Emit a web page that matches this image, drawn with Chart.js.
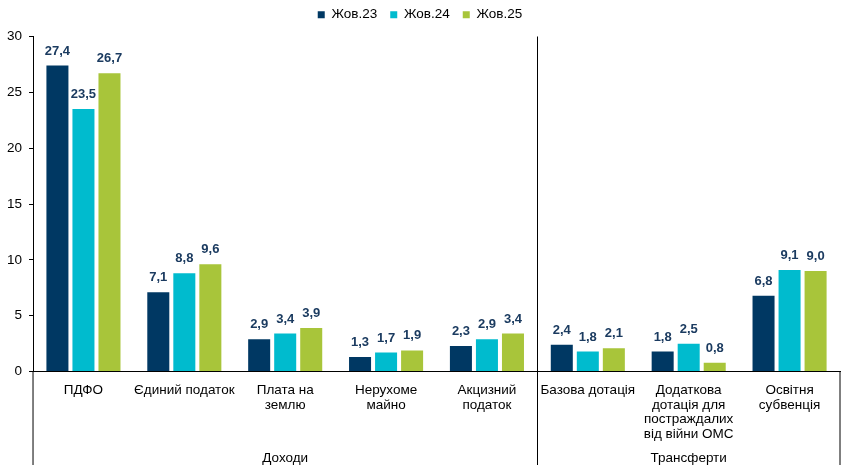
<!DOCTYPE html>
<html>
<head>
<meta charset="utf-8">
<script src="https://cdn.jsdelivr.net/npm/chart.js@4.4.1/dist/chart.umd.min.js"></script>
<style>
  html, body { margin: 0; padding: 0; background: #fff; }
  #wrap { width: 850px; height: 476px; }
</style>
</head>
<body>
<div id="wrap"><canvas id="chart"></canvas></div>
<script>
const categories = [
  'ПДФО',
  'Єдиний податок',
  ['Плата на', 'землю'],
  ['Нерухоме', 'майно'],
  ['Акцизний', 'податок'],
  'Базова дотація',
  ['Додаткова', 'дотація для', 'постраждалих', 'від війни ОМС'],
  ['Освітня', 'субвенція']
];
const seriesNames = ['Жов.23', 'Жов.24', 'Жов.25'];
const oct23 = [27.4, 7.1, 2.9, 1.3, 2.3, 2.4, 1.8, 6.8];
const oct24 = [23.5, 8.8, 3.4, 1.7, 2.9, 1.8, 2.5, 9.1];
const oct25 = [26.7, 9.6, 3.9, 1.9, 3.4, 2.1, 0.8, 9.0];
const groups = [
  { label: 'Доходи', from: 0, to: 4 },
  { label: 'Трансферти', from: 5, to: 7 }
];
const colors = ['#003863', '#00BBCE', '#A8C53A'];

const font = 'Liberation Sans, Arial, sans-serif';

// extra room under the legend so it sits higher above the plot
const legendGap = {
  id: 'legendGap',
  beforeInit(chart) {
    const fit = chart.legend.fit;
    chart.legend.fit = function () {
      fit.bind(chart.legend)();
      this.height += 5;
    };
  }
};

// value labels above bars
const valueLabels = {
  id: 'valueLabels',
  afterDatasetsDraw(chart) {
    const ctx = chart.ctx;
    ctx.save();
    ctx.font = 'bold 13px ' + font;
    ctx.fillStyle = '#1B3B60';
    ctx.textAlign = 'center';
    ctx.textBaseline = 'bottom';
    chart.data.datasets.forEach((ds, di) => {
      chart.getDatasetMeta(di).data.forEach((bar, i) => {
        ctx.fillText(ds.data[i].toFixed(1).replace('.', ','), bar.x, bar.y - 8);
      });
    });
    ctx.restore();
  }
};

// group separators and group names under the axis
const groupAxis = {
  id: 'groupAxis',
  afterDraw(chart) {
    const ctx = chart.ctx;
    const x = chart.scales.x;
    const area = chart.chartArea;
    const bottom = 465;
    const edge = i => {
      if (i < 0) return area.left;
      if (i >= categories.length - 1) return area.right;
      return (x.getPixelForValue(i) + x.getPixelForValue(i + 1)) / 2;
    };
    ctx.save();
    ctx.strokeStyle = '#000';
    ctx.lineWidth = 1;
    ctx.beginPath();
    ctx.moveTo(area.left, area.bottom);
    ctx.lineTo(area.left, bottom);
    const sep = Math.round(edge(groups[0].to)) + 0.5;
    ctx.moveTo(sep, area.top);
    ctx.lineTo(sep, bottom);
    ctx.moveTo(area.right, area.bottom);
    ctx.lineTo(area.right, bottom);
    ctx.stroke();
    ctx.font = '13.5px ' + font;
    ctx.fillStyle = '#000';
    ctx.textAlign = 'center';
    ctx.textBaseline = 'middle';
    groups.forEach(g => {
      const l = edge(g.from - 1), r = edge(g.to);
      ctx.fillText(g.label, (l + r) / 2, 458);
    });
    ctx.restore();
  }
};

new Chart(document.getElementById('chart'), {
  type: 'bar',
  data: {
    labels: categories,
    datasets: [oct23, oct24, oct25].map((d, i) => ({
      label: seriesNames[i],
      data: d,
      backgroundColor: colors[i],
      categoryPercentage: 0.774,
      barPercentage: 0.846
    }))
  },
  options: {
    responsive: true,
    maintainAspectRatio: false,
    animation: false,
    layout: { padding: { left: 0, right: 10, top: -5, bottom: 31 } },
    plugins: {
      tooltip: { enabled: false },
      legend: {
        position: 'top',
        labels: {
          boxWidth: 7,
          boxHeight: 7,
          padding: 13,
          color: '#000',
          font: { family: font, size: 13.5 }
        }
      }
    },
    scales: {
      x: {
        grid: { display: false },
        border: { display: true, color: '#000', width: 1 },
        ticks: {
          color: '#000',
          font: { family: font, size: 13.5, lineHeight: 1.1 },
          maxRotation: 0,
          autoSkip: false,
          padding: 3
        }
      },
      y: {
        min: 0,
        max: 30,
        grid: { drawOnChartArea: false, drawTicks: true, tickLength: 4, color: '#000' },
        border: { display: true, color: '#000', width: 1 },
        ticks: {
          stepSize: 5,
          color: '#000',
          font: { family: font, size: 13.5 },
          padding: 7
        }
      }
    }
  },
  plugins: [legendGap, valueLabels, groupAxis]
});
</script>
</body>
</html>
